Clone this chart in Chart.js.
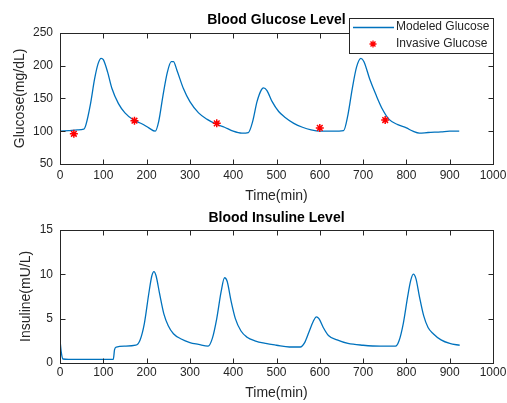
<!DOCTYPE html>
<html>
<head>
<meta charset="utf-8">
<script src="https://cdn.jsdelivr.net/npm/chart.js@4"></script>
<style>
body { margin: 0; background: #fff; }
#top { position: absolute; left: 0; top: 0; width: 507px; height: 206px; }
#bot { position: absolute; left: 0; top: 206px; width: 507px; height: 197px; }
</style>
</head>
<body>
<div id="top"><canvas id="glucoseChart"></canvas></div>
<div id="bot"><canvas id="insulinChart"></canvas></div>
<script>
// modeled glucose (mg/dL) over time (min)
const glucoseTime = [0, 20, 40, 55, 60, 70, 80, 88, 95, 100, 110, 120, 135, 150, 170, 190, 205, 220,
  228, 238, 248, 257, 262, 270, 285, 300, 320, 340, 360, 380, 400, 420, 435,
  445, 455, 465, 470, 478, 490, 505, 520, 540, 560, 580, 600, 630, 655,
  665, 675, 685, 695, 702, 715, 730, 745, 760, 780, 800, 815, 830, 850, 880, 900, 922];
const glucoseValue = [100, 101, 102, 103, 110, 140, 180, 203, 211, 209, 190, 165, 142, 128, 117, 111, 105, 100,
  115, 155, 190, 206, 206, 193, 165, 145, 128, 118, 111, 106, 100, 97, 98,
  115, 145, 163, 166, 162, 145, 130, 121, 112, 106, 102, 100, 100, 101,
  125, 165, 198, 211, 206, 180, 155, 133, 118, 110, 105, 100, 97, 98, 99, 100, 100];

// invasive glucose samples
const invasiveTime = [32, 172, 362, 600, 751];
const invasiveValue = [96, 116, 112, 105, 117];

// insulin (mU/L)
const insulinTime = [0, 3, 7, 20, 60, 100, 123, 126, 130, 150, 175, 185, 195, 205, 212, 217, 222, 230, 240, 250,
  262, 280, 300, 320, 342, 352, 362, 372, 380, 386, 395, 405, 418, 432, 450, 475, 500, 530, 555,
  565, 575, 585, 592, 598, 608, 620, 640, 665, 700, 740, 775,
  783, 793, 803, 810, 816, 822, 830, 840, 850, 862, 880, 900, 923];
const insulinValue = [2.6, 1.2, 0.45, 0.4, 0.4, 0.4, 0.4, 1.5, 1.8, 1.9, 2.0, 2.6, 4.5, 7.8, 9.8, 10.3, 9.8, 7.8, 5.5, 4.2,
  3.3, 2.7, 2.3, 2.1, 1.9, 2.8, 5.0, 8.0, 9.6, 9.2, 7.0, 5.0, 3.6, 2.9, 2.5, 2.2, 2.0, 1.8, 1.8,
  2.3, 3.5, 4.7, 5.2, 5.0, 4.0, 3.1, 2.6, 2.2, 2.0, 1.9, 1.9,
  2.5, 4.5, 7.5, 9.3, 10.0, 9.5, 7.5, 5.3, 4.0, 3.3, 2.6, 2.2, 2.0];

const FONT = '"Liberation Sans", Arial, sans-serif';
const AXIS = '#262626';
const BLUE = '#0072BD';

function pts(xs, ys) {
  return xs.map((x, i) => ({ x: x, y: ys[i] }));
}

// matlab style box with inward ticks
const framePlugin = {
  id: 'frame',
  afterDatasetsDraw(chart) {
    const ctx = chart.ctx;
    const a = chart.chartArea;
    const sx = chart.scales.x, sy = chart.scales.y;
    const L = Math.round(a.left) + 0.5, R = Math.round(a.right) + 0.5;
    const T = Math.round(a.top) + 0.5, B = Math.round(a.bottom) + 0.5;
    ctx.save();
    ctx.strokeStyle = AXIS;
    ctx.lineWidth = 1;
    ctx.strokeRect(L, T, R - L, B - T);
    ctx.beginPath();
    sx.ticks.forEach(t => {
      const p = Math.round(sx.getPixelForValue(t.value)) + 0.5;
      ctx.moveTo(p, B); ctx.lineTo(p, B - 5);
      ctx.moveTo(p, T); ctx.lineTo(p, T + 5);
    });
    sy.ticks.forEach(t => {
      const p = Math.round(sy.getPixelForValue(t.value)) + 0.5;
      ctx.moveTo(L, p); ctx.lineTo(L + 5, p);
      ctx.moveTo(R, p); ctx.lineTo(R - 5, p);
    });
    ctx.stroke();
    ctx.restore();
  }
};

// legend box overlapping the top right corner
const boxLegend = {
  id: 'boxLegend',
  afterDraw(chart) {
    const ctx = chart.ctx;
    ctx.save();
    ctx.fillStyle = '#fff';
    ctx.fillRect(349, 18, 144, 35);
    ctx.strokeStyle = AXIS;
    ctx.lineWidth = 1;
    ctx.strokeRect(349.5, 18.5, 144, 35);
    ctx.strokeStyle = BLUE;
    ctx.lineWidth = 1.3;
    ctx.beginPath();
    ctx.moveTo(353, 27.5); ctx.lineTo(394, 27.5);
    ctx.stroke();
    ctx.strokeStyle = 'red';
    ctx.fillStyle = 'red';
    ctx.lineWidth = 1.3;
    Chart.helpers.drawPoint(ctx, { pointStyle: 'star', radius: 3.5, borderWidth: 1.3 }, 373, 44);
    ctx.fillStyle = AXIS;
    ctx.font = '12px ' + FONT;
    ctx.textBaseline = 'middle';
    ctx.fillText('Modeled Glucose', 396, 27);
    ctx.fillText('Invasive Glucose', 396, 44);
    ctx.restore();
  }
};

function makeOptions(title, yTitle, yMin, yMax, yStep, xHeight, titlePad, xTickPad, yTitlePad) {
  return {
    responsive: true,
    maintainAspectRatio: false,
    animation: false,
    layout: { padding: { left: 0, right: 14, top: 0, bottom: 0 } },
    plugins: {
      legend: { display: false },
      tooltip: { enabled: false },
      title: {
        display: true, text: title, fullSize: false, color: '#000',
        font: { family: FONT, size: 14, weight: 'bold' },
        padding: titlePad
      }
    },
    scales: {
      x: {
        type: 'linear', min: 0, max: 1000,
        grid: { display: false, drawTicks: false },
        border: { display: false },
        ticks: {
          stepSize: 100, autoSkip: false, maxRotation: 0, padding: xTickPad, color: AXIS,
          font: { family: FONT, size: 12 },
          callback: v => String(v)
        },
        title: { display: true, text: 'Time(min)', color: AXIS, font: { family: FONT, size: 14 }, padding: { top: 0, bottom: 1 } },
        afterFit(s) { s.height = xHeight; s.paddingLeft = 0; s.paddingRight = 0; }
      },
      y: {
        min: yMin, max: yMax,
        grid: { display: false, drawTicks: false },
        border: { display: false },
        ticks: { stepSize: yStep, padding: 7, color: AXIS, font: { family: FONT, size: 12 } },
        title: { display: true, text: yTitle, color: AXIS, font: { family: FONT, size: 14 }, padding: { top: yTitlePad, bottom: 0 } },
        afterFit(s) { s.width = 60; s.paddingTop = 0; s.paddingBottom = 0; }
      }
    }
  };
}

new Chart(document.getElementById('glucoseChart'), {
  type: 'line',
  data: {
    datasets: [
      {
        label: 'Invasive Glucose',
        data: pts(invasiveTime, invasiveValue),
        showLine: false,
        pointStyle: 'star',
        pointRadius: 4,
        borderColor: 'red',
        backgroundColor: 'red',
        borderWidth: 1.5
      },
      {
        label: 'Modeled Glucose',
        data: pts(glucoseTime, glucoseValue),
        borderColor: BLUE,
        borderWidth: 1.3,
        pointRadius: 0,
        cubicInterpolationMode: 'monotone',
        fill: false
      }
    ]
  },
  options: makeOptions('Blood Glucose Level', 'Glucose(mg/dL)', 50, 250, 50, 42, { top: 12, bottom: 4 }, 4, 12),
  plugins: [framePlugin, boxLegend]
});

new Chart(document.getElementById('insulinChart'), {
  type: 'line',
  data: {
    datasets: [{
      label: 'Insuline',
      data: pts(insulinTime, insulinValue),
      borderColor: BLUE,
      borderWidth: 1.3,
      pointRadius: 0,
      cubicInterpolationMode: 'monotone',
      fill: false
    }]
  },
  options: makeOptions('Blood Insuline Level', 'Insuline(mU/L)', 0, 15, 5, 40, { top: 4, bottom: 3 }, 2, 18),
  plugins: [framePlugin]
});
</script>
</body>
</html>
